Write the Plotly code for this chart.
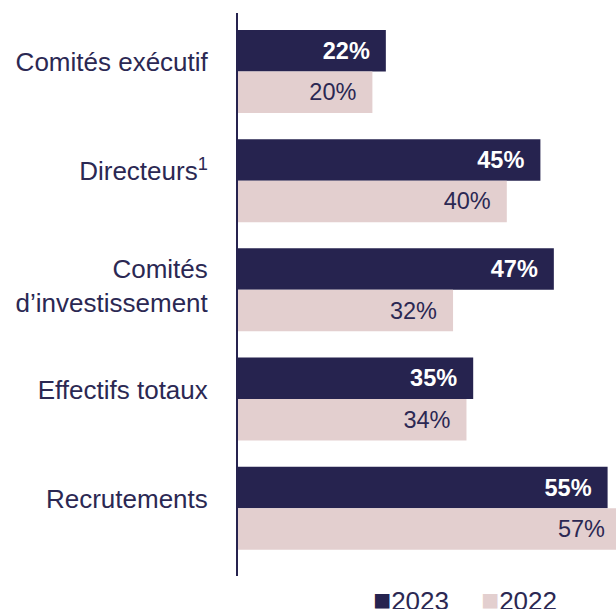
import plotly.graph_objects as go

categories = ["Comités exécutif", "Directeurs<sup>1</sup>", "Comités<br>d’investissement",
              "Effectifs totaux", "Recrutements"]
values_2023 = [22, 45, 47, 35, 55]
values_2022 = [20, 40, 32, 34, 57]
series_names = ["2023", "2022"]

NAVY = "#26234f"
PINK = "#e3cfcf"
TEXT = "#2b2853"
FONT = "Liberation Sans, Arial, sans-serif"

ypos = list(range(len(categories)))
# label positions nudged so that the text baseline sits on the group centre
label_shift = [-0.085, -0.085, -0.035, -0.085, -0.085]
tickpos = [p + s for p, s in zip(ypos, label_shift)]
pad = "\u00a0\u00a0"

fig = go.Figure()
fig.add_trace(go.Bar(
    y=ypos, x=values_2023, orientation="h", name=series_names[0],
    marker=dict(color=NAVY, line=dict(width=0)),
    text=[f"<b>{v}%</b>{pad}" for v in values_2023],
    textposition="inside", insidetextanchor="end",
    textfont=dict(color="white", size=23.5, family=FONT),
    constraintext="none", cliponaxis=True,
))
fig.add_trace(go.Bar(
    y=ypos, x=values_2022, orientation="h", name=series_names[1],
    marker=dict(color=PINK, line=dict(width=0)),
    text=[f"{v}%{pad}" for v in values_2022],
    textposition="inside", insidetextanchor="end",
    textfont=dict(color=TEXT, size=23.5, family=FONT),
    constraintext="none", cliponaxis=True,
))

# legend drawn as text annotations
legend_items = [(series_names[0], NAVY, 0.353), (series_names[1], PINK, 0.6375)]
annotations = []
for name, col, xp in legend_items:
    annotations.append(dict(
        x=xp, y=-0.041, xref="paper", yref="paper", xanchor="left", yanchor="middle",
        showarrow=False,
        text=f"<span style='color:{col};font-size:30px'>■</span>{name}",
        font=dict(size=26, color=TEXT, family=FONT),
    ))

fig.update_layout(
    width=616, height=609,
    margin=dict(l=238, r=0, t=13, b=33, autoexpand=False),
    paper_bgcolor="white", plot_bgcolor="white",
    barmode="group", bargap=0.24, bargroupgap=0,
    font=dict(family=FONT, color=TEXT),
    showlegend=False,
    annotations=annotations,
)
fig.update_xaxes(range=[0, 56.25], visible=False, showgrid=False, zeroline=False)
fig.update_yaxes(
    tickmode="array", tickvals=tickpos, ticktext=categories,
    range=[4.62, -0.535], showgrid=False, zeroline=False, automargin=False,
    showline=True, linecolor=NAVY, linewidth=2,
    ticks="", ticklabelstandoff=23,
    tickfont=dict(size=26, color=TEXT, family=FONT),
)

fig.write_html(
    "out.html",
    config={"displayModeBar": False},
    post_script="document.body.style.margin='0';document.body.style.overflow='hidden';",
)
